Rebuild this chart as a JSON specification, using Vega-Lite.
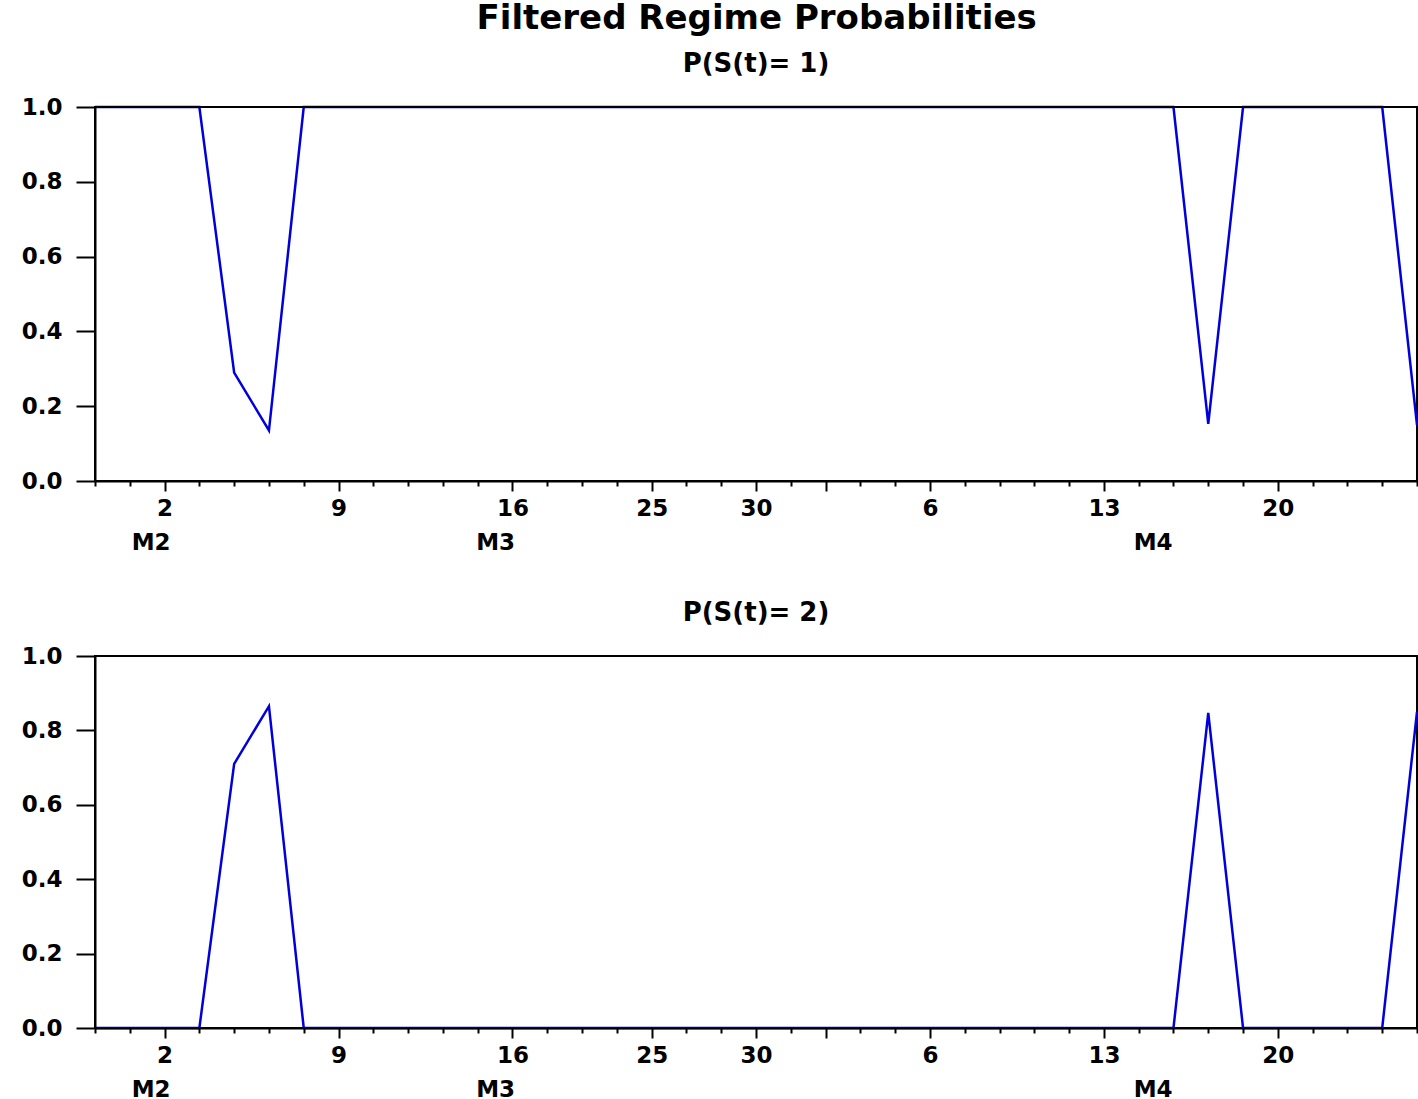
{
  "$schema": "https://vega.github.io/schema/vega-lite/v6.json",
  "background": "white",
  "padding": {"left": 20, "top": 2, "right": 1, "bottom": 0},
  "title": {"text": "Filtered Regime Probabilities", "font": "DejaVu Sans", "fontSize": 34, "fontWeight": "bold", "color": "black", "anchor": "middle", "offset": 14, "dx": 35},
  "spacing": 44,
  "config": {"view": {"stroke": "black", "strokeWidth": 2}},
  "datasets": {
    "probs": [
      {"idx": 0, "p1": 1.0, "p2": 0.0},
      {"idx": 1, "p1": 1.0, "p2": 0.0},
      {"idx": 2, "p1": 1.0, "p2": 0.0},
      {"idx": 3, "p1": 1.0, "p2": 0.0},
      {"idx": 4, "p1": 0.29, "p2": 0.71},
      {"idx": 5, "p1": 0.135, "p2": 0.865},
      {"idx": 6, "p1": 1.0, "p2": 0.0},
      {"idx": 7, "p1": 1.0, "p2": 0.0},
      {"idx": 8, "p1": 1.0, "p2": 0.0},
      {"idx": 9, "p1": 1.0, "p2": 0.0},
      {"idx": 10, "p1": 1.0, "p2": 0.0},
      {"idx": 11, "p1": 1.0, "p2": 0.0},
      {"idx": 12, "p1": 1.0, "p2": 0.0},
      {"idx": 13, "p1": 1.0, "p2": 0.0},
      {"idx": 14, "p1": 1.0, "p2": 0.0},
      {"idx": 15, "p1": 1.0, "p2": 0.0},
      {"idx": 16, "p1": 1.0, "p2": 0.0},
      {"idx": 17, "p1": 1.0, "p2": 0.0},
      {"idx": 18, "p1": 1.0, "p2": 0.0},
      {"idx": 19, "p1": 1.0, "p2": 0.0},
      {"idx": 20, "p1": 1.0, "p2": 0.0},
      {"idx": 21, "p1": 1.0, "p2": 0.0},
      {"idx": 22, "p1": 1.0, "p2": 0.0},
      {"idx": 23, "p1": 1.0, "p2": 0.0},
      {"idx": 24, "p1": 1.0, "p2": 0.0},
      {"idx": 25, "p1": 1.0, "p2": 0.0},
      {"idx": 26, "p1": 1.0, "p2": 0.0},
      {"idx": 27, "p1": 1.0, "p2": 0.0},
      {"idx": 28, "p1": 1.0, "p2": 0.0},
      {"idx": 29, "p1": 1.0, "p2": 0.0},
      {"idx": 30, "p1": 1.0, "p2": 0.0},
      {"idx": 31, "p1": 1.0, "p2": 0.0},
      {"idx": 32, "p1": 0.153, "p2": 0.847},
      {"idx": 33, "p1": 1.0, "p2": 0.0},
      {"idx": 34, "p1": 1.0, "p2": 0.0},
      {"idx": 35, "p1": 1.0, "p2": 0.0},
      {"idx": 36, "p1": 1.0, "p2": 0.0},
      {"idx": 37, "p1": 1.0, "p2": 0.0},
      {"idx": 38, "p1": 0.15, "p2": 0.85}
    ]
  },
  "vconcat": [
    {
      "width": 1322,
      "height": 374,
      "title": {"text": "P(S(t)= 1)", "font": "DejaVu Sans", "fontSize": 26, "fontWeight": "bold", "color": "black", "anchor": "middle", "offset": 19},
      "data": {"name": "probs"},
      "layer": [
        {
          "mark": {"type": "line", "color": "#0000dd", "strokeWidth": 2.5},
          "encoding": {
            "x": {"field": "idx", "type": "quantitative", "scale": {"domain": [0, 38], "nice": false, "zero": false},
              "axis": {"title": null, "grid": false, "zindex": 1,
                "values": [0,1,2,3,4,5,6,7,8,9,10,11,12,13,14,15,16,17,18,19,20,21,22,23,24,25,26,27,28,29,30,31,32,33,34,35,36,37,38,1.6,11.5,30.4],
                "domainColor": "black", "domainWidth": 2,
                "tickColor": {"condition": {"test": "datum.value % 1 != 0", "value": "transparent"}, "value": "black"},
                "tickWidth": 2,
                "tickSize": {"condition": {"test": "indexof([2,7,12,16,19,21,24,29,34], datum.value) >= 0", "value": 10}, "value": 5},
                "labelPadding": {"condition": {"test": "datum.value % 1 != 0", "value": 45}, "value": 6},
                "labelExpr": "datum.value == 2 ? '2' : datum.value == 7 ? '9' : datum.value == 12 ? '16' : datum.value == 16 ? '25' : datum.value == 19 ? '30' : datum.value == 24 ? '6' : datum.value == 29 ? '13' : datum.value == 34 ? '20' : datum.value == 1.6 ? 'M2' : datum.value == 11.5 ? 'M3' : datum.value == 30.4 ? 'M4' : ''",
                "labelOverlap": false, "labelBound": false, "labelFlush": false,
                "labelFont": "DejaVu Sans", "labelFontSize": 23, "labelFontWeight": "bold", "labelColor": "black", "labelBaseline": "top"}},
            "y": {"field": "p1", "type": "quantitative", "scale": {"domain": [0, 1], "nice": false, "zero": false},
              "axis": {"title": null, "grid": false, "zindex": 1, "values": [0, 0.2, 0.4, 0.6, 0.8, 1.0], "format": ".1f",
                "domainColor": "black", "domainWidth": 2, "tickColor": "black", "tickWidth": 2, "tickSize": 19, "labelPadding": 14,
                "labelFont": "DejaVu Sans", "labelFontSize": 23, "labelFontWeight": "bold", "labelColor": "black"}}
          }
        },
        {
          "mark": {"type": "rule", "color": "black", "strokeWidth": 2},
          "encoding": {"y": {"datum": 1}}
        }
      ]
    },
    {
      "width": 1322,
      "height": 372,
      "title": {"text": "P(S(t)= 2)", "font": "DejaVu Sans", "fontSize": 26, "fontWeight": "bold", "color": "black", "anchor": "middle", "offset": 19},
      "data": {"name": "probs"},
      "layer": [
        {
          "mark": {"type": "line", "color": "#0000dd", "strokeWidth": 2.5},
          "encoding": {
            "x": {"field": "idx", "type": "quantitative", "scale": {"domain": [0, 38], "nice": false, "zero": false},
              "axis": {"title": null, "grid": false, "zindex": 1,
                "values": [0,1,2,3,4,5,6,7,8,9,10,11,12,13,14,15,16,17,18,19,20,21,22,23,24,25,26,27,28,29,30,31,32,33,34,35,36,37,38,1.6,11.5,30.4],
                "domainColor": "black", "domainWidth": 2,
                "tickColor": {"condition": {"test": "datum.value % 1 != 0", "value": "transparent"}, "value": "black"},
                "tickWidth": 2,
                "tickSize": {"condition": {"test": "indexof([2,7,12,16,19,21,24,29,34], datum.value) >= 0", "value": 10}, "value": 5},
                "labelPadding": {"condition": {"test": "datum.value % 1 != 0", "value": 45}, "value": 6},
                "labelExpr": "datum.value == 2 ? '2' : datum.value == 7 ? '9' : datum.value == 12 ? '16' : datum.value == 16 ? '25' : datum.value == 19 ? '30' : datum.value == 24 ? '6' : datum.value == 29 ? '13' : datum.value == 34 ? '20' : datum.value == 1.6 ? 'M2' : datum.value == 11.5 ? 'M3' : datum.value == 30.4 ? 'M4' : ''",
                "labelOverlap": false, "labelBound": false, "labelFlush": false,
                "labelFont": "DejaVu Sans", "labelFontSize": 23, "labelFontWeight": "bold", "labelColor": "black", "labelBaseline": "top"}},
            "y": {"field": "p2", "type": "quantitative", "scale": {"domain": [0, 1], "nice": false, "zero": false},
              "axis": {"title": null, "grid": false, "zindex": 1, "values": [0, 0.2, 0.4, 0.6, 0.8, 1.0], "format": ".1f",
                "domainColor": "black", "domainWidth": 2, "tickColor": "black", "tickWidth": 2, "tickSize": 19, "labelPadding": 14,
                "labelFont": "DejaVu Sans", "labelFontSize": 23, "labelFontWeight": "bold", "labelColor": "black"}}
          }
        },
        {
          "mark": {"type": "rule", "color": "black", "strokeWidth": 2},
          "encoding": {"y": {"datum": 1}}
        }
      ]
    }
  ]
}
